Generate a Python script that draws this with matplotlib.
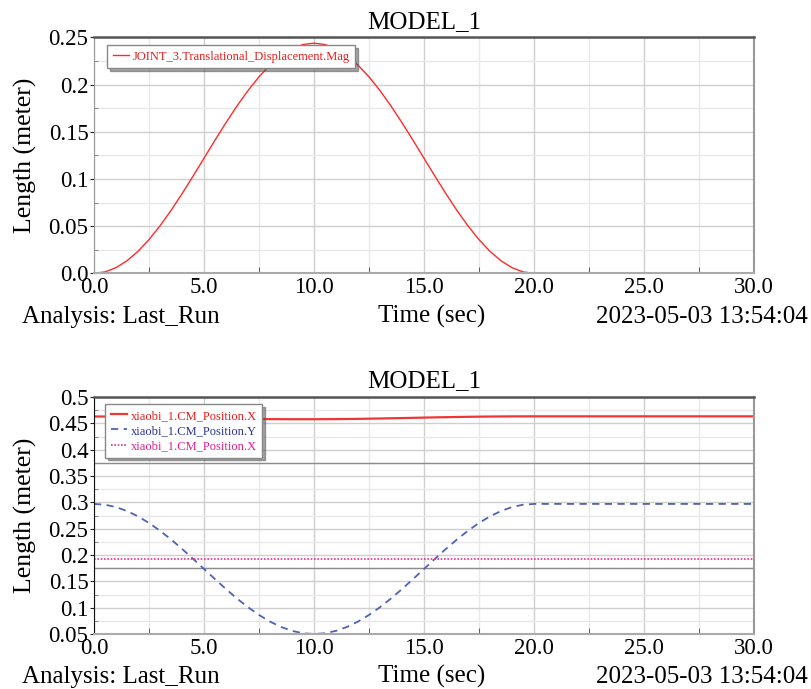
import matplotlib
matplotlib.use("Agg")
import matplotlib.pyplot as plt
from matplotlib.ticker import MultipleLocator
from matplotlib.transforms import ScaledTranslation

plt.rcParams['font.family'] = ['Liberation Serif', 'DejaVu Serif']

# sampled results every 0.5 s up to 20 s, then the held value at 30 s
time_s = [k * 0.5 for k in range(41)] + [30]
joint_disp = [0.0, 0.0015, 0.006, 0.0133, 0.0233, 0.0357, 0.0503, 0.0666, 0.0843, 0.1029,
              0.122, 0.1411, 0.1597, 0.1774, 0.1937, 0.2083, 0.2207, 0.2307, 0.238, 0.2425,
              0.244, 0.2425, 0.238, 0.2307, 0.2207, 0.2083, 0.1937, 0.1774, 0.1597, 0.1411,
              0.122, 0.1029, 0.0843, 0.0666, 0.0503, 0.0357, 0.0233, 0.0133, 0.006, 0.0015,
              0.0, 0.0]
cm_pos_y = [0.297, 0.2955, 0.291, 0.2835, 0.2734, 0.2608, 0.2461, 0.2296, 0.2117, 0.1928,
            0.1735, 0.1542, 0.1353, 0.1174, 0.1009, 0.0862, 0.0736, 0.0635, 0.056, 0.0515,
            0.05, 0.0515, 0.056, 0.0635, 0.0736, 0.0862, 0.1009, 0.1174, 0.1353, 0.1542,
            0.1735, 0.1928, 0.2117, 0.2296, 0.2461, 0.2608, 0.2734, 0.2835, 0.291, 0.2955,
            0.297, 0.297]

# x position barely moves, 1 s samples are enough
time_x = [0, 1, 2, 3, 4, 5, 6, 7, 8, 9, 10, 11, 12, 13, 14, 15, 16, 17, 18, 19, 20, 30]
cm_pos_x = [0.4630, 0.4628, 0.4622, 0.4615, 0.4607, 0.4598, 0.4590, 0.4584, 0.4580, 0.4578, 0.4578,
            0.4580, 0.4585, 0.4592, 0.4600, 0.4609, 0.4617, 0.4624, 0.4629, 0.4632, 0.4633, 0.4633]
time_x2 = [0, 30]
cm_pos_x2 = [0.193, 0.193]

x_ticks = [0, 5, 10, 15, 20, 25, 30]
x_labels = ['0.0', '5.0', '10.0', '15.0', '20.0', '25.0', '30.0']
y1_ticks = [0.0, 0.05, 0.1, 0.15, 0.2, 0.25]
y1_labels = ['0.0', '0.05', '0.1', '0.15', '0.2', '0.25']
y2_ticks = [0.05, 0.1, 0.15, 0.2, 0.25, 0.3, 0.35, 0.4, 0.45, 0.5]
y2_labels = ['0.05', '0.1', '0.15', '0.2', '0.25', '0.3', '0.35', '0.4', '0.45', '0.5']

fig = plt.figure(figsize=(8.11, 6.89), dpi=100)
ax1 = fig.add_axes([0.1159, 0.6033, 0.8138, 0.3423])
ax2 = fig.add_axes([0.1159, 0.0798, 0.8138, 0.3440])

# y tick labels sit a little above their tick
lift = ScaledTranslation(0, 2.5 / 72, fig.dpi_scale_trans)


def style_axes(ax, yticks, ylabels, ylim):
    ax.set_xlim(0, 30)
    ax.set_ylim(*ylim)
    ax.set_xticks(x_ticks, x_labels, fontsize=16.5)
    ax.set_yticks(yticks, ylabels, fontsize=16.5)
    for lbl in ax.get_yticklabels():
        lbl.set_transform(lbl.get_transform() + lift)
    ax.xaxis.set_minor_locator(MultipleLocator(2.5))
    ax.yaxis.set_minor_locator(MultipleLocator(0.025))
    ax.grid(which='major', color='#cfcfcf', lw=1.0)
    ax.grid(which='minor', color='#e8e8e8', lw=1.0)
    ax.set_axisbelow(True)
    ax.tick_params(axis='x', which='major', length=0, pad=3)
    ax.tick_params(axis='x', which='minor', direction='in', length=4, color='#444444')
    ax.tick_params(axis='y', which='major', direction='out', length=3, pad=1, color='#222222')
    ax.tick_params(axis='y', which='minor', direction='in', length=3, color='#777777')
    ax.spines['top'].set_color('#555555')
    ax.spines['top'].set_linewidth(1.8)
    ax.spines['right'].set_color('#999999')
    ax.spines['right'].set_linewidth(1.5)
    ax.spines['bottom'].set_color('#aaaaaa')
    ax.spines['bottom'].set_linewidth(1.5)
    ax.set_title('MODEL_1', fontsize=18, pad=7)
    ax.set_ylabel('Length (meter)', fontsize=18.5, labelpad=8)


legend_kw = dict(loc='upper left', fontsize=9, frameon=True, fancybox=False, shadow=True,
                 framealpha=1, edgecolor='#888888', handlelength=1.3, handletextpad=0.3,
                 borderpad=0.45, labelspacing=0.25, borderaxespad=0)

# top: joint displacement
style_axes(ax1, y1_ticks, y1_labels, (0, 0.25))
ax1.spines['left'].set_color('#999999')
ax1.plot(time_s, joint_disp, color='#ff2a2a', lw=1.0,
         label='JOINT_3.Translational_Displacement.Mag')
leg1 = ax1.legend(bbox_to_anchor=(0.0197, 0.968), **legend_kw)
leg1.get_texts()[0].set_color('#e81c1c')

# bottom: centre of mass position
style_axes(ax2, y2_ticks, y2_labels, (0.05, 0.5))
ax2.spines['left'].set_color('#111111')
for yv in (0.375, 0.175):
    ax2.axhline(yv, color='#8c8c8c', lw=1.0, zorder=1)
ax2.plot(time_x, cm_pos_x, color='#f03535', lw=1.6, label='xiaobi_1.CM_Position.X')
ax2.plot(time_s, cm_pos_y, color='#4f62b6', lw=1.3, ls=(0, (4, 3)),
         label='xiaobi_1.CM_Position.Y')
ax2.plot(time_x2, cm_pos_x2, color='#e8308f', lw=1.2, ls=(0, (1, 1)),
         label='xiaobi_1.CM_Position.X')
leg2 = ax2.legend(bbox_to_anchor=(0.0167, 0.970), **legend_kw)
for txt, c in zip(leg2.get_texts(), ['#e81c1c', '#2b3590', '#e0208a']):
    txt.set_color(c)

# footer lines under each plot
for base in (323, 683):
    yb = 1 - base / 689
    fig.text(22 / 811, yb, 'Analysis: Last_Run', fontsize=18, va='baseline', ha='left')
    fig.text(432 / 811, yb, 'Time (sec)', fontsize=18, va='baseline', ha='center')
    fig.text(808 / 811, yb, '2023-05-03 13:54:04', fontsize=18, va='baseline', ha='right')

fig.savefig('out.png', dpi=100)
